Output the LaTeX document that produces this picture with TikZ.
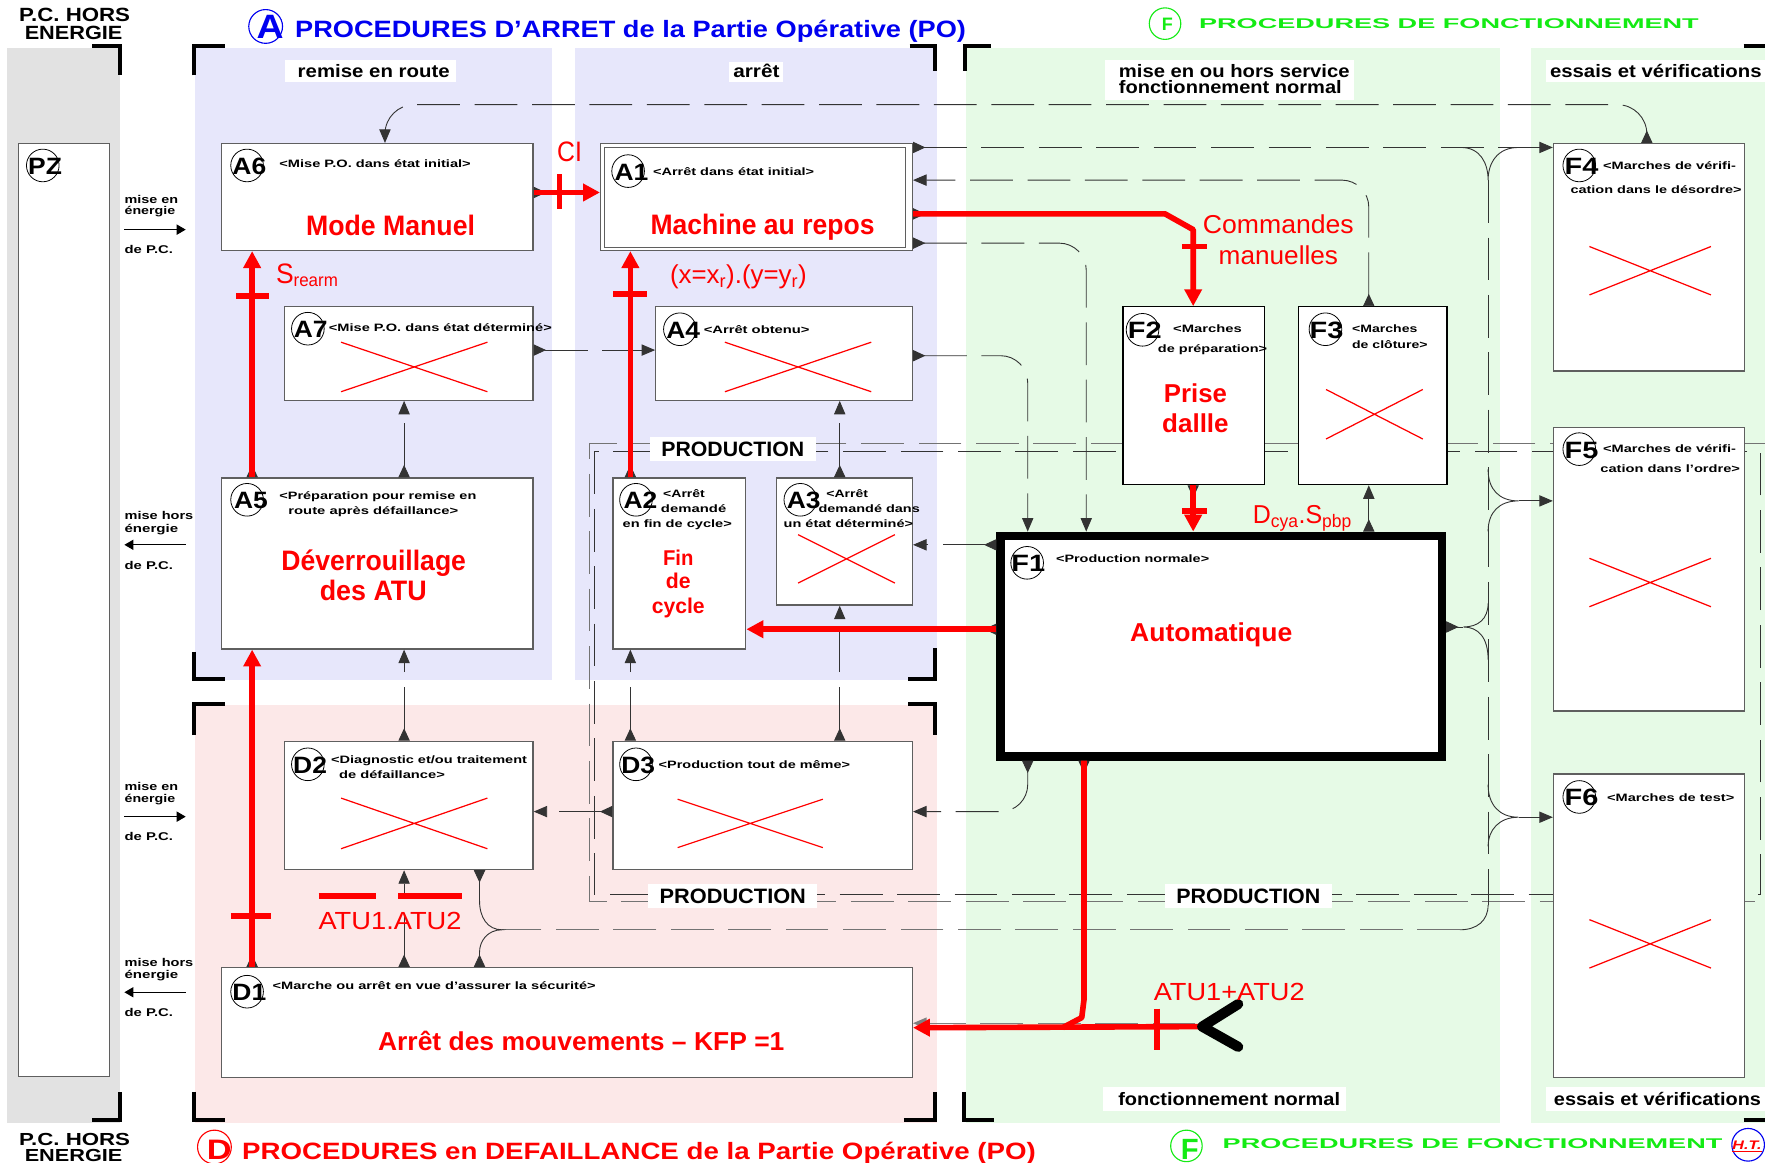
\documentclass[tikz,border=0pt]{standalone}
\usepackage{fontspec}
\setmainfont{Liberation Sans}
\usepackage{graphicx}
\usetikzlibrary{arrows.meta,calc}
\definecolor{bgblue}{RGB}{231,231,251}
\definecolor{bggreen}{RGB}{230,250,230}
\definecolor{bgpink}{RGB}{252,232,232}
\definecolor{bggray}{RGB}{226,226,226}
\definecolor{rd}{RGB}{255,0,0}
\definecolor{tblue}{RGB}{0,0,240}
\definecolor{tgreen}{RGB}{20,235,20}
\definecolor{bxgray}{RGB}{95,95,95}
\newcommand\fw[2]{\resizebox{#1pt}{\height}{#2}}
\newcommand\myfs[1]{\fontsize{#1}{#1}\selectfont}
\tikzset{
  bx/.style={draw=bxgray, fill=white, line width=1.1pt, anchor=north west, inner sep=0pt},
  circ/.style={draw=black, line width=0.7pt, circle, minimum size=29pt, inner sep=0pt},
  clab/.style={font=\myfs{21}\bfseries, inner sep=0pt, anchor=base},
  tlab/.style={font=\myfs{9.5}\bfseries, inner sep=0pt, anchor=base west},
  rbig/.style={font=\myfs{25}\bfseries, text=rd, inner sep=0pt, anchor=base},
  rreg/.style={font=\myfs{23}, text=rd, inner sep=0pt, anchor=base},
  collab/.style={font=\myfs{16}\bfseries, inner sep=0pt, anchor=base},
  sidelab/.style={font=\myfs{10}\bfseries, inner sep=0pt, anchor=base west},
  prodlab/.style={font=\myfs{18.5}\bfseries, fill=white, inner xsep=10pt, inner ysep=4pt},
  cn/.style={draw=black!80, line width=0.8pt, dash pattern=on 38pt off 13pt},
  jn/.style={draw=black!80, line width=0.8pt},
  io/.style={arrows={Triangle[reversed,length=11pt,width=10pt]-Triangle[length=12pt,width=10pt]}},
  iot/.style={arrows={-Triangle[length=12pt,width=10pt]}},
  ist/.style={arrows={Triangle[reversed,length=11pt,width=10pt]-}},
  rl/.style={draw=rd, line width=5pt, line join=round},
  ra/.style={draw=rd, line width=5pt, line join=round, arrows={-Triangle[length=15pt,width=15pt]}},
  rtick/.style={draw=rd, line width=5pt},
  brk/.style={draw=black, line width=3.5pt},
  xr/.style={draw=rd, line width=1.1pt},
  sidearr/.style={draw=black, line width=1pt, arrows={-Triangle[length=8pt,width=9pt]}},
}
\begin{document}
\begin{tikzpicture}[x=1pt,y=-1pt]
\useasboundingbox (0,0) rectangle (1568,1033);
\fill[white] (0,0) rectangle (1568,1033);
% ---------- backgrounds
\fill[bggray] (6,43) rectangle (107,998);
\fill[bgblue] (173,43) rectangle (490,604);
\fill[bgblue] (511,43) rectangle (832,604);
\fill[bgpink] (173,626) rectangle (832,998);
\fill[bggreen] (858,43) rectangle (1333,998);
\fill[bggreen] (1360,43) rectangle (1568,998);
% white label backgrounds
\fill[white] (253,53) rectangle (405,73);
\fill[white] (648,55) rectangle (696,73);
\fill[white] (982,53) rectangle (1203,89);
\fill[white] (1373,53) rectangle (1568,73);
\fill[white] (980,966) rectangle (1196,987);
\fill[white] (1373,966) rectangle (1568,987);
% ---------- brackets
\draw[brk] (82,41) -- (107,41) -- (107,67);
\draw[brk] (172,67) -- (172,41) -- (200,41);
\draw[brk] (808,41) -- (831,41) -- (831,63);
\draw[brk] (857,63) -- (857,41) -- (880,41);
\draw[brk] (1549,41) -- (1568,41);
\draw[brk] (172,579) -- (172,603) -- (200,603);
\draw[brk] (807,603) -- (831,603) -- (831,576);
\draw[brk] (172,653) -- (172,625) -- (200,625);
\draw[brk] (807,625) -- (831,625) -- (831,653);
\draw[brk] (82,995) -- (107,995) -- (107,970);
\draw[brk] (172,970) -- (172,995) -- (200,995);
\draw[brk] (803,995) -- (831,995) -- (831,970);
\draw[brk] (856,970) -- (856,995) -- (883,995);
\draw[brk] (1549,995) -- (1568,995);
% ---------- PRODUCTION enclosure
\draw[draw=black!55, line width=1.1pt, dash pattern=on 38pt off 13pt] (1568,394) -- (524,394) -- (524,801) -- (1568,801);
\draw[draw=black!80, line width=0.9pt, dash pattern=on 38pt off 13pt] (528,401) rectangle (1564,795);
\node[prodlab] (P1) at (651,399) {\fw{127}{PRODUCTION}};
\node[prodlab] (P2) at (651,796) {\fw{130}{PRODUCTION}};
\node[prodlab] (P3) at (1109,796) {\fw{128}{PRODUCTION}};
% ---------- boxes
\node[bx, minimum width=81pt, minimum height=829pt] (PZ) at (16,127) {};
\node[bx, minimum width=277pt, minimum height=95pt] (A6) at (196,127) {};
\node[bx, minimum width=277pt, minimum height=95pt] (A1) at (533,127) {};
\draw[bxgray, line width=1.1pt] ($(A1.north west)+(4,4)$) rectangle ($(A1.south east)+(-7,-3)$);
\node[bx, minimum width=221pt, minimum height=83pt] (A7) at (252,272) {};
\node[bx, minimum width=228pt, minimum height=83pt] (A4) at (582,272) {};
\node[bx, minimum width=277pt, minimum height=152pt] (A5) at (196,424) {};
\node[bx, minimum width=118pt, minimum height=152pt] (A2) at (544,424) {};
\node[bx, minimum width=121pt, minimum height=113pt] (A3) at (689,424) {};
\node[bx, draw=black, minimum width=126pt, minimum height=158pt] (F2) at (997,272) {};
\node[bx, draw=black, minimum width=132pt, minimum height=158pt] (F3) at (1153,272) {};
\node[bx, minimum width=170pt, minimum height=202pt] (F4) at (1379.5,127) {};
\node[bx, minimum width=170pt, minimum height=252pt] (F5) at (1379.5,379) {};
\node[bx, minimum width=170pt, minimum height=270pt] (F6) at (1379.5,687) {};
\node[draw=black, fill=white, line width=7.5pt, inner sep=0pt, minimum width=392pt, minimum height=196pt] (F1) at (1085,574) {};
\node[bx, minimum width=221pt, minimum height=114pt] (D2) at (252,658) {};
\node[bx, minimum width=266pt, minimum height=114pt] (D3) at (544,658) {};
\node[bx, minimum width=614pt, minimum height=98pt] (D1) at (196,859) {};
% ---------- red crosses
\draw[xr] (303,304) -- (433,348) (303,348) -- (433,304);
\draw[xr] (644,304) -- (774,348) (644,348) -- (774,304);
\draw[xr] (709,475) -- (795,518) (709,518) -- (795,475);
\draw[xr] (1178,346) -- (1264,390) (1178,390) -- (1264,346);
\draw[xr] (1412,219) -- (1520,262) (1412,262) -- (1520,219);
\draw[xr] (1412,496) -- (1520,539) (1412,539) -- (1520,496);
\draw[xr] (1412,817) -- (1520,860) (1412,860) -- (1520,817);
\draw[xr] (303,709) -- (433,754) (303,754) -- (433,709);
\draw[xr] (602,710) -- (731,753) (602,753) -- (731,710);
% ---------- connectors
\draw[cn, io, rounded corners=26pt] (F4.north -| 1463,0) -- (1463,93) -- (342,93) -- (A6.north -| 342,0);
\draw[cn, io] (A1.east |- 0,131) -- (F4.west |- 0,131);
\draw[jn] (1298,131) .. controls (1315,131) and (1322,145) .. (1322,160) .. controls (1322,145) and (1330,131) .. (1349,131);
\draw[cn] (1322,160) -- (1322,804);
\draw[cn, io, rounded corners=24pt] (F3.north -| 1216,0) -- (1216,160) -- (A1.east |- 0,160);
\draw[cn, io, rounded corners=24pt] (A1.east |- 0,216) -- (965,216) -- (F1.north -| 965,0);
\draw[cn, io, rounded corners=24pt] (A4.east |- 0,316) -- (913,316) -- (F1.north -| 913,0);
\draw[cn, io] (A7.east |- 0,311) -- (A4.west |- 0,311);
\draw[cn, io] (A5.north -| 359,0) -- (A7.south -| 359,0);
\draw[cn, io] (D2.north -| 359,0) -- (A5.south -| 359,0);
\draw[cn, io] (D1.north -| 359,0) -- (D2.south -| 359,0);
\draw[cn, io] (A3.north -| 746,0) -- (A4.south -| 746,0);
\draw[cn, io] (D3.north -| 746,0) -- (A3.south -| 746,0);
\draw[cn, io] (D3.north -| 560,0) -- (A2.south -| 560,0);
\draw[cn, io] (D3.west |- 0,721) -- (D2.east |- 0,721);
\draw[cn, io, rounded corners=24pt] (F1.south -| 913,0) -- (913,721) -- (D3.east |- 0,721);
\draw[cn, io] (F1.west |- 0,484) -- (A3.east |- 0,484);
\draw[cn, io] (F1.north -| 1216,0) -- (F3.south -| 1216,0);
% F1 -> bus
\draw[jn, ist] (F1.east |- 0,557) -- (1300,557);
\draw[jn] (1322,536) .. controls (1322,550) and (1313,557) .. (1300,557) .. controls (1313,557) and (1322,566) .. (1322,586);
% bus -> F5, F6
\draw[jn] (1322,417) .. controls (1322,435) and (1332,445) .. (1349,445) .. controls (1332,445) and (1322,455) .. (1322,472);
\draw[jn, iot] (1349,445) -- (F5.west |- 0,445);
\draw[jn] (1322,697) .. controls (1322,715) and (1332,726) .. (1349,726) .. controls (1332,726) and (1322,737) .. (1322,752);
\draw[jn, iot] (1349,726) -- (F6.west |- 0,726);
% bus -> D1 / D2
\draw[jn] (1322,804) .. controls (1322,818) and (1312,826) .. (1297,826);
\draw[cn, draw=black!55, line width=1pt] (1297,826) -- (446,826);
\draw[jn] (426,800) .. controls (426,815) and (433,826) .. (446,826) .. controls (433,826) and (426,836) .. (426,846);
\draw[jn, ist] (D2.south -| 426,0) -- (426,800);
\draw[jn, ist] (D1.north -| 426,0) -- (426,846);
% ---------- black markers below red connectors
\draw[jn, ist] (A6.east |- 0,171) -- ++(14,0);
\draw[jn, ist] (A5.north -| 224,0) -- ++(0,-14);
\draw[jn, ist] (D1.north -| 224,0) -- ++(0,-14);
\draw[jn, ist] (A2.north -| 560,0) -- ++(0,-14);
\draw[jn, ist] (A1.east |- 0,190) -- ++(14,0);
\draw[jn, ist] (F1.west |- 0,559) -- ++(-14,0);
\draw[jn, ist] (F2.south -| 1060,0) -- ++(0,14);
\draw[jn, ist] (F1.south -| 963,0) -- ++(0,14);
% ---------- D1 emergency input
\coordinate (chev) at (1068,912);
\coordinate (g1) at (1062,909);
\draw[cn, draw=black!50, line width=1pt, iot] (g1) -- (D1.east |- 0,909);
% ---------- red connectors
\draw[ra] (A6.east |- 0,171) -- (A1.west |- 0,171);
\draw[rtick] (497,155) -- (497,186);
\draw[ra] (A5.north -| 224,0) -- (A6.south -| 224,0);
\draw[rtick] (210,263) -- (239,263);
\draw[ra] (D1.north -| 224,0) -- (A5.south -| 224,0);
\draw[rtick] (205,814) -- (241,814);
\draw[ra] (A2.north -| 560,0) -- (A1.south -| 560,0);
\draw[rtick] (545,261) -- (575,261);
\draw[ra] (A1.east |- 0,190) -- (1035,190) -- (1060,204) -- (F2.north -| 1060,0);
\draw[rtick] (1050,219) -- (1072,219);
\draw[ra] (F2.south -| 1060,0) -- (F1.north -| 1060,0);
\draw[rtick] (1050,454) -- (1072,454);
\draw[ra] (F1.west |- 0,559) -- (A2.east |- 0,559);
\draw[ra] (chev) -- (D1.east |- 0,913);
\draw[rl] (F1.south -| 963,0) -- (963,888) -- (961,904) -- (944,913);
\draw[rtick] (1028,896) -- (1028,933);
\draw[line width=9pt, line cap=round, line join=round] (1100,892) -- (chev) -- (1100,930);
\draw[rtick] (283,796) -- (334,796);
\draw[rtick] (354,796) -- (410,796);
% ---------- circles with labels
\foreach \n/\cx/\cy/\lx/\t in {cPZ/38/147/40/PZ, cA6/219.5/147/221.5/A6, cA1/558/152/561/A1,
  cA7/273.5/292/276/A7, cA4/604/292.5/607/A4, cA5/219.5/444/223/A5, cA2/565/444/569/A2,
  cA3/711/444/714/A3, cF1/912.5/500/913.5/F1, cF2/1015/293/1017/F2, cF3/1177.5/292.5/1178.5/F3,
  cF4/1403/147/1405/F4, cF5/1403/399/1405/F5, cF6/1403/708/1405/F6, cD2/273.5/679/275.5/D2,
  cD3/565/679/567/D3, cD1/219.5/881/221.5/D1}{
  \node[circ] (\n) at (\cx,\cy) {};
  \node[clab] at (\lx,\cy+8) {\fw{30}{\t}};
}
% ---------- box titles
\node[tlab] at (248,148.6) {\fw{170}{<Mise P.O. dans état initial>}};
\node[tlab] at (580,156) {\fw{143}{<Arrêt dans état initial>}};
\node[tlab] at (292,294.6) {\fw{198}{<Mise P.O. dans état déterminé>}};
\node[tlab] at (625,296) {\fw{94}{<Arrêt obtenu>}};
\node[tlab] at (248,443.5) {\fw{175}{<Préparation pour remise en}};
\node[tlab] at (256,457) {\fw{151}{route après défaillance>}};
\node[tlab] at (589,441.8) {\fw{37}{<Arrêt}};
\node[tlab] at (587,455) {\fw{58}{demandé}};
\node[tlab] at (553,468.4) {\fw{97}{en fin de cycle>}};
\node[tlab] at (734,441.8) {\fw{37}{<Arrêt}};
\node[tlab] at (727,455) {\fw{90}{demandé dans}};
\node[tlab] at (696,468.4) {\fw{115}{un état déterminé>}};
\node[tlab] at (938,499.5) {\fw{136}{<Production normale>}};
\node[tlab] at (1042,295.6) {\fw{61}{<Marches}};
\node[tlab] at (1028.5,313) {\fw{97}{de préparation>}};
\node[tlab] at (1201,295.6) {\fw{58}{<Marches}};
\node[tlab] at (1201,309.4) {\fw{67}{de clôture>}};
\node[tlab] at (1424,151) {\fw{118}{<Marches de vérifi-}};
\node[tlab] at (1395,171.7) {\fw{152}{cation dans le désordre>}};
\node[tlab] at (1424,402) {\fw{118}{<Marches de vérifi-}};
\node[tlab] at (1421.6,419.9) {\fw{124}{cation dans l'ordre>}};
\node[tlab] at (1427.5,712) {\fw{113}{<Marches de test>}};
\node[tlab] at (294,678) {\fw{174}{<Diagnostic et/ou traitement}};
\node[tlab] at (301,691.4) {\fw{94}{de défaillance>}};
\node[tlab] at (585,682.5) {\fw{170}{<Production tout de même>}};
\node[tlab] at (242,879) {\fw{287}{<Marche ou arrêt en vue d'assurer la sécurité>}};
% ---------- red texts
\node[rbig] at (347,208.8) {\fw{150}{Mode Manuel}};
\node[rbig] at (677.4,208) {\fw{199}{Machine au repos}};
\node[rbig] at (332,506.9) {\fw{164}{Déverrouillage}};
\node[rbig] at (331.6,533.9) {\fw{95}{des ATU}};
\node[rbig, font=\myfs{19}\bfseries] at (602.5,502) {\fw{27}{Fin}};
\node[rbig, font=\myfs{19}\bfseries] at (602.5,523) {\fw{22}{de}};
\node[rbig, font=\myfs{19}\bfseries] at (602.5,544.8) {\fw{47}{cycle}};
\node[rbig, font=\myfs{23}\bfseries] at (1062,358) {\fw{56}{Prise}};
\node[rbig, font=\myfs{23}\bfseries] at (1062,384) {\fw{59}{dallle}};
\node[rbig, font=\myfs{23}\bfseries] at (1076,570) {\fw{144}{Automatique}};
\node[rbig, font=\myfs{23}\bfseries] at (516.4,932.8) {\fw{361}{Arrêt des mouvements – KFP =1}};
\node[rreg, font=\myfs{25}] at (506,143.6) {\fw{22}{CI}};
\node[rreg, anchor=base west] at (245,251.7) {\fw{55}{{\myfs{25}S}{\myfs{16}\raisebox{-3pt}{rearm}}}};
\node[rreg] at (656,251.7) {\fw{121.5}{(x=x\textsubscript{r}).(y=y\textsubscript{r})}};
\node[rreg] at (1135.7,207) {\fw{134}{Commandes}};
\node[rreg] at (1135.7,235.4) {\fw{106}{manuelles}};
\node[rreg] at (1157,464.9) {\fw{88}{D\textsubscript{cya}.S\textsubscript{pbp}}};
\node[rreg, font=\myfs{22}] at (346.5,826) {\fw{127}{ATU1.ATU2}};
\node[rreg, font=\myfs{22}] at (1092,889) {\fw{134}{ATU1+ATU2}};
% ---------- column labels
\node[collab] at (332,68.7) {\fw{135}{remise en route}};
\node[collab] at (672,68.7) {\fw{41}{arrêt}};
\node[collab] at (1096.5,68.7) {\fw{205}{mise en ou hors service}};
\node[collab] at (1093,83.5) {\fw{198}{fonctionnement normal}};
\node[collab] at (1471,68.7) {\fw{188}{essais et vérifications}};
\node[collab] at (1092,981.7) {\fw{197}{fonctionnement normal}};
\node[collab] at (1472.5,981.7) {\fw{184}{essais et vérifications}};
% ---------- side labels (P.C. energy)
\node[sidelab] at (110.5,180.6) {\fw{47.6}{mise en}};
\node[sidelab] at (110.5,190.4) {\fw{45}{énergie}};
\node[sidelab] at (110.5,225) {\fw{43}{de P.C.}};
\coordinate (s1a) at (110.5,204); \coordinate (s1b) at (165,204);
\draw[sidearr] (s1a) -- (s1b);
\node[sidelab] at (110.5,461.3) {\fw{61}{mise hors}};
\node[sidelab] at (110.5,472.9) {\fw{47.6}{énergie}};
\node[sidelab] at (110.5,506.3) {\fw{43}{de P.C.}};
\coordinate (s2a) at (165,484); \coordinate (s2b) at (110.5,484);
\draw[sidearr] (s2a) -- (s2b);
\node[sidelab] at (110.5,702.7) {\fw{47.6}{mise en}};
\node[sidelab] at (110.5,713) {\fw{45}{énergie}};
\node[sidelab] at (110.5,747) {\fw{43}{de P.C.}};
\coordinate (s3a) at (110.5,725.5); \coordinate (s3b) at (165,725.5);
\draw[sidearr] (s3a) -- (s3b);
\node[sidelab] at (110.5,858.7) {\fw{61}{mise hors}};
\node[sidelab] at (110.5,869.7) {\fw{47.6}{énergie}};
\node[sidelab] at (110.5,903.1) {\fw{43}{de P.C.}};
\coordinate (s4a) at (165,881.5); \coordinate (s4b) at (110.5,881.5);
\draw[sidearr] (s4a) -- (s4b);
% ---------- headers / footers
\node[font=\myfs{17}\bfseries, inner sep=0pt, anchor=base] at (66.3,19) {\fw{98.6}{P.C. HORS}};
\node[font=\myfs{17}\bfseries, inner sep=0pt, anchor=base] at (65.4,35.5) {\fw{86.8}{ENERGIE}};
\node[font=\myfs{15.5}\bfseries, inner sep=0pt, anchor=base] at (66.3,1017.5) {\fw{98.6}{P.C. HORS}};
\node[font=\myfs{15.5}\bfseries, inner sep=0pt, anchor=base] at (65.4,1032) {\fw{86.8}{ENERGIE}};
\node[circle, draw=tblue, line width=1pt, minimum size=30pt, inner sep=0pt] (cA) at (236,23.5) {};
\node[font=\myfs{30}\bfseries, text=tblue, inner sep=0pt, anchor=base] at (240,34) {\fw{24}{A}};
\node[font=\myfs{21}\bfseries, text=tblue, inner sep=0pt, anchor=base west] at (262,33) {\fw{596}{PROCEDURES D'ARRET de la Partie Opérative (PO)}};
\node[circle, draw=rd, line width=1pt, minimum size=30pt, inner sep=0pt] (cD) at (190.5,1019) {};
\node[font=\myfs{25}\bfseries, text=rd, inner sep=0pt, anchor=base] at (194.7,1030.5) {\fw{22}{D}};
\node[font=\myfs{21}\bfseries, text=rd, inner sep=0pt, anchor=base west] at (215,1030.5) {\fw{705}{PROCEDURES en DEFAILLANCE de la Partie Opérative (PO)}};
\node[circle, draw=tgreen, line width=1pt, minimum size=28pt, inner sep=0pt] (cF) at (1035,21) {};
\node[font=\myfs{16}\bfseries, text=tgreen, inner sep=0pt, anchor=base] at (1037,27) {F};
\node[font=\myfs{12.5}\bfseries, text=tgreen, inner sep=0pt, anchor=base west] at (1065,25.2) {\fw{444}{PROCEDURES DE FONCTIONNEMENT}};
\node[circle, draw=tgreen, line width=1pt, minimum size=28pt, inner sep=0pt] (cF2) at (1054,1018) {};
\node[font=\myfs{26}\bfseries, text=tgreen, inner sep=0pt, anchor=base] at (1057,1030) {F};
\node[font=\myfs{12.5}\bfseries, text=tgreen, inner sep=0pt, anchor=base west] at (1086,1020) {\fw{444}{PROCEDURES DE FONCTIONNEMENT}};
\node[circle, draw=tblue, line width=1pt, minimum size=29pt, inner sep=0pt] (cHT) at (1553,1017) {};
\node[font=\myfs{11}\bfseries\itshape, text=rd, inner sep=0pt, anchor=base] at (1552,1021) {\fw{26}{\underline{H.T.}}};
\end{tikzpicture}
\end{document}
